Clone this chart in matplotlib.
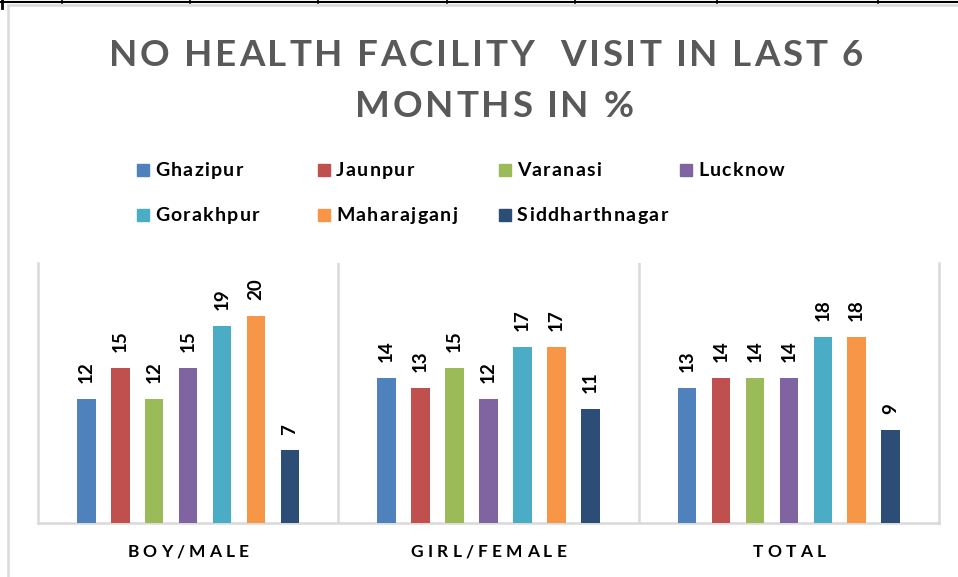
import matplotlib
matplotlib.use("Agg")
import matplotlib.pyplot as plt
from matplotlib.patches import Rectangle
from matplotlib.lines import Line2D
from matplotlib.font_manager import FontProperties
import numpy as np

categories = ["BOY/MALE", "GIRL/FEMALE", "TOTAL"]
districts = ["Ghazipur", "Jaunpur", "Varanasi", "Lucknow",
             "Gorakhpur", "Maharajganj", "Siddharthnagar"]
ghazipur = [12, 14, 13]
jaunpur = [15, 13, 14]
varanasi = [12, 15, 14]
lucknow = [15, 12, 14]
gorakhpur = [19, 17, 18]
maharajganj = [20, 17, 18]
siddharthnagar = [7, 11, 9]
series = [ghazipur, jaunpur, varanasi, lucknow, gorakhpur, maharajganj, siddharthnagar]
colors = ["#4F81BD", "#C0504D", "#9BBB59", "#8064A2", "#4BACC6", "#F79646", "#2C4D75"]
title_lines = ["NO HEALTH FACILITY  VISIT IN LAST 6", "MONTHS IN %"]

FONT = "Lato"
W, H = 958, 577
fig = plt.figure(figsize=(W / 100, H / 100), dpi=100)
renderer = fig.canvas.get_renderer()


def px(x, y):
    return x / W, 1 - y / H


def spaced_text(s, xc, yc, spacing, ha="center", size=12, color="black", va="center_baseline"):
    """Draw text at pixel (xc, yc) with extra letter spacing."""
    prop = FontProperties(family=FONT, size=size, weight="bold")
    widths = []
    for ch in s:
        if ch == " ":
            w, _, _ = renderer.get_text_width_height_descent("a a", prop, ismath=False)
            w2, _, _ = renderer.get_text_width_height_descent("aa", prop, ismath=False)
            widths.append(w - w2)
        else:
            w, _, _ = renderer.get_text_width_height_descent(ch, prop, ismath=False)
            widths.append(w)
    total = sum(widths) + spacing * (len(s) - 1)
    x = xc - total / 2 if ha == "center" else xc
    for ch, w in zip(s, widths):
        if ch != " ":
            fig.text(*px(x, yc), ch, fontproperties=prop, color=color,
                     ha="left", va=va)
        x += w + spacing


# decorative borders (table lines and chart border)
fig.add_artist(Line2D([0, 1], [1 - 2 / H, 1 - 2 / H], color="black", lw=1.5))
for xv in [62, 190, 318, 447, 575, 717, 878]:
    fig.add_artist(Line2D([xv / W, xv / W], [1, 1 - 3 / H], color="black", lw=1.2))
fig.add_artist(Line2D([2 / W, 2 / W], [1, 1 - 8 / H], color="black", lw=2))
fig.add_artist(Line2D([8 / W, 1], [1 - 5 / H, 1 - 5 / H], color="#D9D9D9", lw=1.8))
fig.add_artist(Line2D([8 / W, 8 / W], [1 - 5 / H, 0], color="#D9D9D9", lw=1.8))

# axes
left, right, top, bottom = 38, 939, 263, 523
ax = fig.add_axes([left / W, 1 - bottom / H, (right - left) / W, (bottom - top) / H])
ax.set_xlim(-0.5, 2.5)
ax.set_ylim(0, 25.1)
x = np.arange(len(categories))
step = 0.113
bw = 0.0615
for i, (vals, c, name) in enumerate(zip(series, colors, districts)):
    pos = x + (i - 3) * step
    bars = ax.bar(pos, vals, width=bw, color=c, label=name, zorder=3)
    for b, v in zip(bars, vals):
        ax.annotate(f"{v}", (b.get_x() + b.get_width() / 2, v), xytext=(0, 11.5),
                    textcoords="offset points", rotation=90, ha="center", va="bottom",
                    fontsize=13.5, fontweight="bold", family=FONT, color="black")

ax.spines["top"].set_visible(False)
for sp in ["left", "right", "bottom"]:
    ax.spines[sp].set_color("#D9D9D9")
    ax.spines[sp].set_linewidth(1.8)
for xv in [0.5, 1.5]:
    ax.axvline(xv, color="#D9D9D9", lw=1.8, zorder=1)
ax.set_xticks([])
ax.set_yticks([])

# category labels
for i, cat in enumerate(categories):
    xc = left + (i + 0.5) * (right - left) / 3
    spaced_text(cat, xc, 557, 4.2, size=12.5, color="black", va="baseline")

# title
spaced_text(title_lines[0], 486, 66, 2.8, size=26.5, color="#595959", va="baseline")
spaced_text(title_lines[1], 494, 117, 2.8, size=26.5, color="#595959", va="baseline")

# legend
for i, (name, c) in enumerate(zip(districts, colors)):
    col, row = i % 4, i // 4
    lx = 137 + col * 181
    ly = 170 + row * 45
    fig.add_artist(Rectangle(px(lx, ly + 6), 12 / W, 12 / H, color=c, transform=fig.transFigure))
    spaced_text(name, lx + 18, ly + 6, 1.3, ha="left", size=14, color="black", va="baseline")

fig.savefig("out.png", dpi=100)
